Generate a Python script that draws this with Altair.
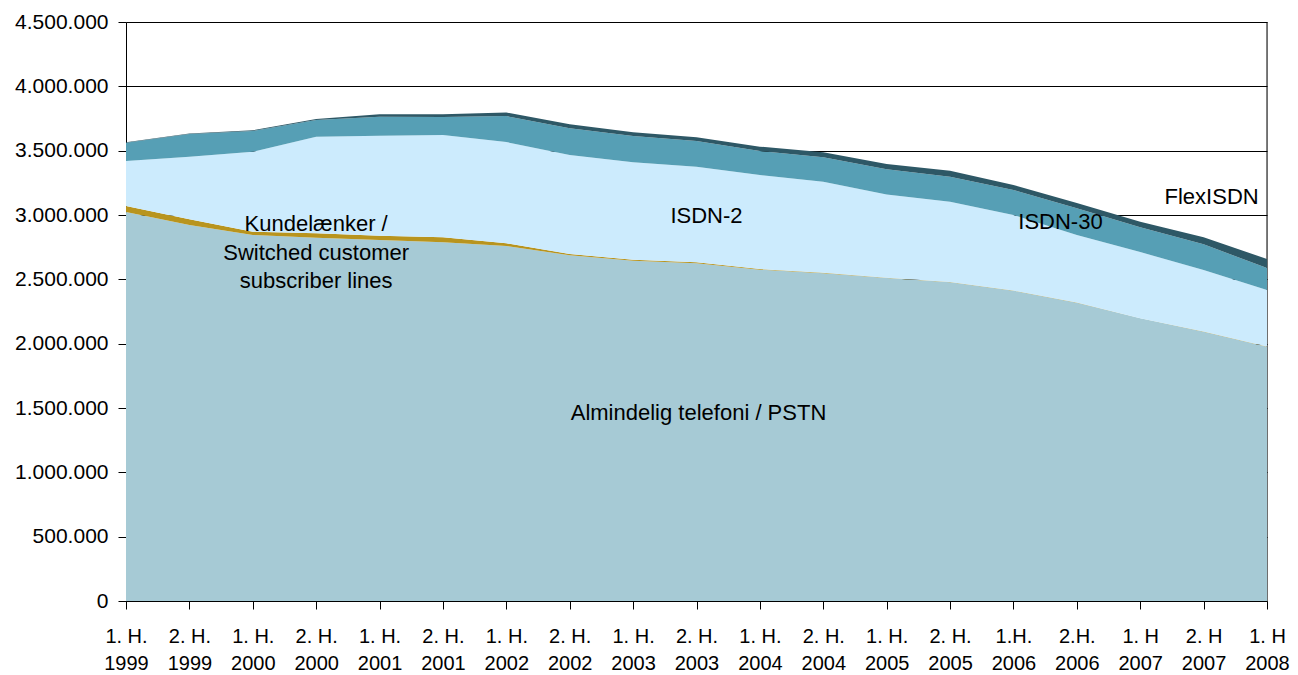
import altair as alt
import pandas as pd

periods = ["1. H.|1999", "2. H.|1999", "1. H.|2000", "2. H.|2000", "1. H.|2001",
           "2. H.|2001", "1. H.|2002", "2. H.|2002", "1. H.|2003", "2. H.|2003",
           "1. H.|2004", "2. H.|2004", "1. H.|2005", "2. H.|2005", "1.H.|2006",
           "2.H.|2006", "1. H|2007", "2. H|2007", "1. H|2008"]

pstn = [3023000, 2922000, 2845000, 2824000, 2806000, 2788000, 2759000, 2687000,
        2645000, 2625000, 2575000, 2547000, 2510000, 2478000, 2412000, 2318000,
        2197000, 2093000, 1977000]
kunde = [47000, 45000, 25000, 34000, 33000, 39000, 21000, 10000, 8000, 7000,
         5000, 4000, 2000, 1000, 1000, 1000, 1000, 1000, 1000]
isdn2 = [350000, 486000, 622000, 751000, 777000, 795000, 787000, 769000, 757000,
         743000, 731000, 708000, 647000, 624000, 587000, 526000, 514000, 479000,
         439000]
isdn30 = [142000, 177000, 161000, 129000, 148000, 140000, 202000, 208000, 204000,
          200000, 186000, 189000, 196000, 195000, 194000, 207000, 192000, 199000,
          171000]
flex = [3000, 4000, 6000, 8000, 19000, 21000, 28000, 31000, 29000, 29000, 34000,
        39000, 41000, 46000, 39000, 41000, 44000, 55000, 70000]

series_names = ["Almindelig telefoni / PSTN", "Kundelænker", "ISDN-2", "ISDN-30", "FlexISDN"]
series_values = [pstn, kunde, isdn2, isdn30, flex]
series_colors = ["#A6CAD5", "#B8941E", "#CCEBFD", "#569FB5", "#2E5866"]

y_ticks = [0, 500000, 1000000, 1500000, 2000000, 2500000, 3000000, 3500000, 4000000, 4500000]

rows = []
for k, (name, vals) in enumerate(zip(series_names, series_values)):
    for p, v in zip(periods, vals):
        rows.append({"period": p, "series": name, "value": v, "ord": k})
df = pd.DataFrame(rows)

FONT = "Liberation Sans"

x_enc = alt.X(
    "period:O", sort=periods, title=None,
    scale=alt.Scale(type="point", padding=0),
    axis=alt.Axis(labelAngle=0, labelAlign="center", labelFlush=False,
                  labelExpr="split(datum.label, '|')",
                  labelFontSize=20, labelLineHeight=27, labelPadding=27,
                  tickSize=8, labelColor="black", domainColor="black",
                  tickColor="black", grid=False, labelFont=FONT),
)

y_scale = alt.Scale(domain=[0, 4500000], nice=False)

border = alt.Chart(pd.DataFrame({"period": [periods[-1]]})).mark_rule(
    color="black", strokeWidth=1
).encode(x=alt.X("period:O", sort=periods, scale=alt.Scale(type="point", padding=0)))

areas = alt.Chart(df).mark_area(interpolate="linear", opacity=1).encode(
    x=x_enc,
    y=alt.Y("value:Q", stack="zero", title=None, scale=y_scale,
            axis=alt.Axis(values=y_ticks, grid=True, gridColor="black", gridWidth=1,
                          labelExpr="replace(replace(format(datum.value, ','), ',', '.'), ',', '.')",
                          labelFontSize=21, labelPadding=10, tickSize=8,
                          labelColor="black", domainColor="black", tickColor="black",
                          labelFont=FONT)),
    color=alt.Color("series:N", scale=alt.Scale(domain=series_names, range=series_colors),
                    legend=None),
    order=alt.Order("ord:Q"),
)

ann_text = ["Kundelænker /|Switched customer|subscriber lines", "ISDN-2", "ISDN-30",
            "FlexISDN", "Almindelig telefoni / PSTN"]
ann_period = ["2. H.|2000", "2. H.|2003", "1.H.|2006", "2. H|2007", "2. H.|2003"]
ann_value = [2930000, 2992000, 2946000, 3140000, 1461000]
ann_dx = [0, 10, 47, 8, 2]

texts = []
for t, p, v, dx in zip(ann_text, ann_period, ann_value, ann_dx):
    texts.append(
        alt.Chart(pd.DataFrame({"period": [p], "value": [v], "label": [t]}))
        .mark_text(font=FONT, fontSize=22, color="black", align="center",
                   baseline="middle", lineBreak="|", lineHeight=28.5, dx=dx)
        .encode(x=alt.X("period:O", sort=periods), y=alt.Y("value:Q", scale=y_scale),
                text="label:N")
    )

chart = alt.layer(border, areas, *texts).properties(
    width=1141, height=579,
    autosize=alt.AutoSizeParams(type="none"),
    padding={"left": 118, "top": 14, "right": 23, "bottom": 74},
).configure_view(stroke=None).configure(background="white")

chart.save("out.html", embed_options={"renderer": "svg", "actions": False})
